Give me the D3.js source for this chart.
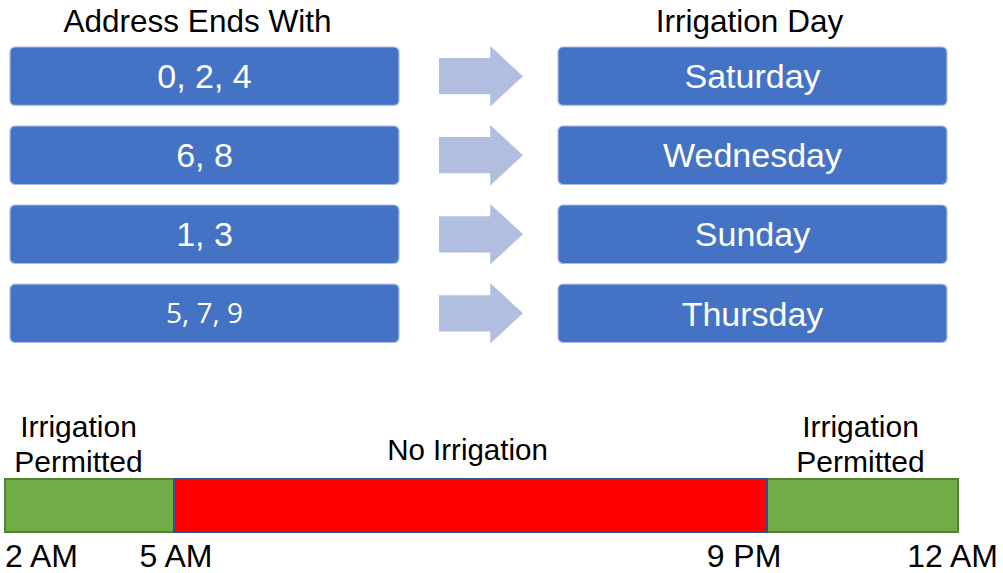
<!DOCTYPE html>
<html>
<head>
<meta charset="utf-8">
<script src="https://cdn.jsdelivr.net/npm/d3@7"></script>
<style>
  body { margin: 0; background: #fff; }
  svg { display: block; font-family: "Liberation Sans", Arial, sans-serif; }
</style>
</head>
<body>
<div id="app"></div>
<script>
// DATA
const headers = ['Address Ends With', 'Irrigation Day'];
const addressDigits = ['0, 2, 4', '6, 8', '1, 3', '5, 7, 9'];
const irrigationDays = ['Saturday', 'Wednesday', 'Sunday', 'Thursday'];
// hours of the day, 24 = midnight
const timeTicks = [2, 5, 21, 24];
const tickLabels = ['2 AM', '5 AM', '9 PM', '12 AM'];
const segStart = [2, 21, 5];
const segEnd = [5, 24, 21];
const segLabels = [['Irrigation', 'Permitted'], ['Irrigation', 'Permitted'], ['No Irrigation']];
const segAllowed = [true, true, false];

const width = 1003, height = 573;

const svg = d3.select('#app').append('svg')
  .attr('width', width)
  .attr('height', height);

// rows of boxes
const y = d3.scaleBand()
  .domain(d3.range(addressDigits.length))
  .range([47, 342.5])
  .paddingInner(0.26);

// columns: left box, arrow, right box
const col = d3.scaleOrdinal()
  .domain(['left', 'arrow', 'right'])
  .range([[10, 399], [439, 523], [558, 947]]);

const boxFill = '#4472c4';
const boxStroke = '#a8bde4';

// headers
svg.selectAll('text.header')
  .data(headers)
  .enter()
  .append('text')
    .attr('class', 'header')
    .attr('x', (d, i) => {
      const c = col(i === 0 ? 'left' : 'right');
      return (c[0] + c[1]) / 2 - (i === 0 ? 7 : 3);
    })
    .attr('y', 32)
    .attr('text-anchor', 'middle')
    .style('font-size', '31.5px')
    .attr('fill', '#000')
    .text(d => d);

const rows = svg.append('g')
  .selectAll('g')
  .data(d3.range(addressDigits.length))
  .enter()
  .append('g')
    .attr('transform', i => `translate(0,${y(i)})`);

const bh = y.bandwidth();

// left boxes
rows.append('rect')
  .attr('x', col('left')[0])
  .attr('width', col('left')[1] - col('left')[0])
  .attr('height', bh)
  .attr('rx', 5)
  .attr('fill', boxFill)
  .attr('stroke', boxStroke)
  .attr('stroke-width', 1.2);

rows.append('text')
  .attr('x', (col('left')[0] + col('left')[1]) / 2)
  .attr('y', bh / 2)
  .attr('dy', '0.36em')
  .attr('text-anchor', 'middle')
  .attr('fill', '#fff')
  .style('font-family', i => i === 3 ? '"Open Sans", sans-serif' : null)
  .style('font-size', i => i === 3 ? '28px' : '34px')
  .text(i => addressDigits[i]);

// arrows
const arrowPath = () => {
  const [x0, x1] = col('arrow');
  const head = x0 + (x1 - x0) * 0.61;
  const s0 = bh * 0.19, s1 = bh * 0.81;
  const h0 = -1, h1 = bh + 1;
  return `M${x0},${s0}H${head}V${h0}L${x1},${bh / 2}L${head},${h1}V${s1}H${x0}Z`;
};

rows.append('path')
  .attr('d', arrowPath)
  .attr('fill', '#b1bee0');

// right boxes
rows.append('rect')
  .attr('x', col('right')[0])
  .attr('width', col('right')[1] - col('right')[0])
  .attr('height', bh)
  .attr('rx', 5)
  .attr('fill', boxFill)
  .attr('stroke', boxStroke)
  .attr('stroke-width', 1.2);

rows.append('text')
  .attr('x', (col('right')[0] + col('right')[1]) / 2)
  .attr('y', bh / 2)
  .attr('dy', '0.36em')
  .attr('text-anchor', 'middle')
  .attr('fill', '#fff')
  .style('font-size', '34px')
  .text(i => irrigationDays[i]);

// TIMELINE
const x = d3.scaleLinear()
  .domain(timeTicks)
  .range([5, 174, 767, 958]);

const barTop = 479, barH = 53;

const segs = svg.append('g')
  .selectAll('g')
  .data(d3.range(segStart.length))
  .enter()
  .append('g');

segs.append('rect')
  .attr('x', i => x(segStart[i]))
  .attr('y', barTop)
  .attr('width', i => x(segEnd[i]) - x(segStart[i]))
  .attr('height', barH)
  .attr('fill', i => segAllowed[i] ? '#70ad47' : '#ff0000')
  .attr('stroke', i => segAllowed[i] ? '#548235' : '#2f528f')
  .attr('stroke-width', 2);

segs.each(function(i) {
  const g = d3.select(this);
  const lines = segLabels[i];
  const mid = (x(segStart[i]) + x(segEnd[i])) / 2;
  const cx = segAllowed[i] ? mid + (i === 0 ? -11 : -2) : mid - 3;
  const base = lines.length === 2 ? 437 : 460;
  g.selectAll('text')
    .data(lines)
    .enter()
    .append('text')
      .attr('x', cx)
      .attr('y', (d, j) => base + j * 35)
      .attr('text-anchor', 'middle')
      .style('font-size', lines.length === 2 ? '30px' : '29.5px')
      .attr('fill', '#000')
      .text(d => d);
});

// tick labels under the bar
const labelX = d3.scaleLinear()
  .domain(timeTicks)
  .range([5, 176, 744, 998]);

svg.append('g')
  .selectAll('text')
  .data(timeTicks)
  .enter()
  .append('text')
    .attr('x', d => labelX(d))
    .attr('y', 567)
    .attr('text-anchor', (d, i) => i === 0 ? 'start' : i === timeTicks.length - 1 ? 'end' : 'middle')
    .style('font-size', '32px')
    .attr('fill', '#000')
    .text((d, i) => tickLabels[i]);
</script>
</body>
</html>
